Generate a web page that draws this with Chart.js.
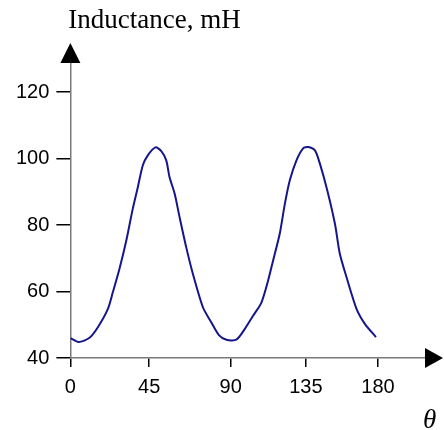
<!DOCTYPE html>
<html>
<head>
<meta charset="utf-8">
<script src="https://cdn.jsdelivr.net/npm/chart.js@4/dist/chart.umd.min.js"></script>
<style>
  html, body { margin: 0; padding: 0; background: #fff; }
  #chart { display: block; }
</style>
</head>
<body>
<canvas id="chart" width="444" height="430"></canvas>
<script>
/* --------------- Data ------------------------------------------ */
// x positions along the drawn theta axis, inductance in mH
const theta = [0, 5, 11, 16, 21.9, 24.8, 28.7, 32.7, 36.5, 39.5, 42.4, 45.3, 49.8, 53.2, 56.1, 58, 61, 63.9, 67.8, 71.7, 77.6, 82.5, 86.9, 91.3, 97.1, 102, 106.9, 111.8, 115.7, 118.6, 122.5, 125.5, 128.4, 132.3, 136.2, 139.1, 143.1, 146, 150.3, 154.8, 157.7, 161.6, 167.5, 172.4, 178.8];
const inductance = [46, 44.8, 46, 49.2, 54.7, 59.7, 66.8, 75.3, 84.9, 91.5, 98, 101, 103.4, 102.3, 99.5, 94.5, 89.5, 82.4, 73.3, 65.3, 55.2, 50.7, 46.9, 45.5, 45.5, 48.7, 52.7, 56.7, 63.3, 69.3, 77.4, 86.4, 93.5, 99.5, 103.1, 103.5, 102.5, 98.5, 90.5, 80.4, 71.3, 64.3, 54.7, 50.2, 46.3];

/* --------------- Ticks (the drawn ticks are not evenly spaced) --------------------- */
const xTickAt = [0, 46.1, 93.8, 137.8, 180];
const xTickLabels = ["0", "45", "90", "135", "180"];
const yTicks = [40, 60, 80, 100, 120];

const yTitle = "Inductance, mH";
const xTitle = "\u03B8";

/* --------------- Arrows, title and theta --------------------- */
const axisExtras = {
  id: "axisExtras",
  afterDraw(chart) {
    const ctx = chart.ctx;
    const x = chart.scales.x;
    const y = chart.scales.y;
    const x0 = x.getPixelForValue(0);
    const y0 = y.getPixelForValue(40);
    const top = chart.chartArea.top;
    const right = chart.chartArea.right;
    ctx.save();
    ctx.fillStyle = "#000";
    // y arrow
    ctx.beginPath();
    ctx.moveTo(x0, top - 20);
    ctx.lineTo(x0 - 10, top);
    ctx.lineTo(x0 + 10, top);
    ctx.closePath();
    ctx.fill();
    // x arrow
    ctx.beginPath();
    ctx.moveTo(right + 18, y0);
    ctx.lineTo(right, y0 - 10);
    ctx.lineTo(right, y0 + 10);
    ctx.closePath();
    ctx.fill();

    ctx.font = '27px "Liberation Serif", "Times New Roman", serif';
    ctx.textAlign = "left";
    ctx.textBaseline = "alphabetic";
    ctx.fillText(yTitle, x0 - 2, 28);
    ctx.font = 'italic 27px "Liberation Serif", "Times New Roman", serif';
    ctx.fillText(xTitle, 423, 428);
    ctx.restore();
  }
};

new Chart(document.getElementById("chart"), {
  type: "line",
  plugins: [axisExtras],
  data: {
    datasets: [{
      data: theta.map((t, i) => ({ x: t, y: inductance[i] })),
      borderColor: "#16168c",
      borderWidth: 2,
      pointRadius: 0,
      tension: 0.25,
      fill: false
    }]
  },
  options: {
    responsive: false,
    animation: false,
    events: [],
    layout: { padding: { left: 9, right: 19, top: 63, bottom: 23 } },
    plugins: {
      legend: { display: false },
      tooltip: { enabled: false },
      title: { display: false }
    },
    scales: {
      x: {
        type: "linear",
        min: 0,
        max: 207.5,
        afterBuildTicks: (scale) => { scale.ticks = xTickAt.map(v => ({ value: v })); },
        ticks: {
          autoSkip: false,
          maxRotation: 0,
          padding: 8,
          color: "#000",
          font: { family: '"Liberation Sans", Arial, sans-serif', size: 20 },
          callback: (v, i) => xTickLabels[i]
        },
        grid: { drawOnChartArea: false, tickLength: 9, tickColor: "#000", lineWidth: 1.5 },
        border: { color: "#7a7a7a", width: 1.5 }
      },
      y: {
        type: "linear",
        min: 40,
        max: 128.8,
        afterBuildTicks: (scale) => { scale.ticks = yTicks.map(v => ({ value: v })); },
        ticks: {
          padding: 7,
          color: "#000",
          font: { family: '"Liberation Sans", Arial, sans-serif', size: 20 }
        },
        grid: { drawOnChartArea: false, tickLength: 14, tickColor: "#000", lineWidth: 1.5 },
        border: { color: "#7a7a7a", width: 1.5 }
      }
    }
  }
});
</script>
</body>
</html>
